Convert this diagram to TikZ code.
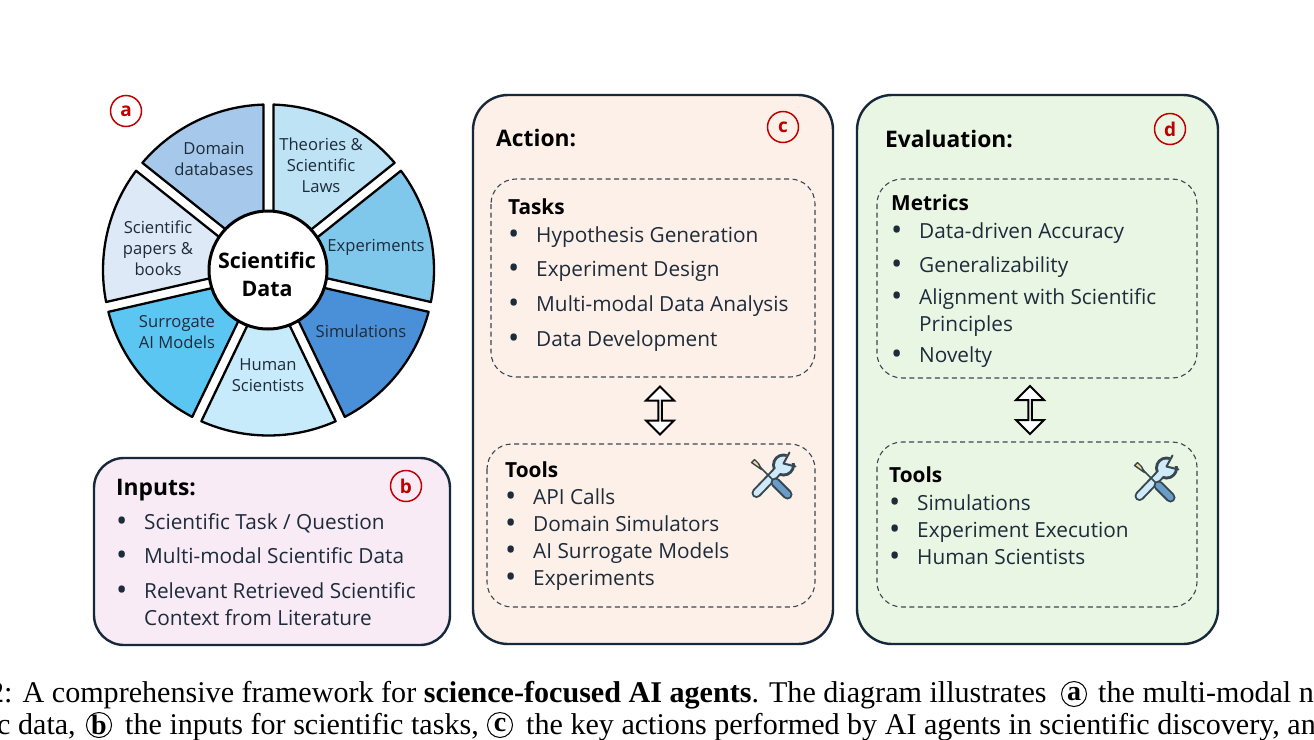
\documentclass[tikz,border=0pt]{standalone}
\usepackage{fontspec}
\setmainfont{Open Sans}
\newfontfamily\capfont{Liberation Serif}
\usetikzlibrary{shapes.arrows,calc}
\definecolor{navy}{HTML}{16283A}
\definecolor{ink}{HTML}{1E2B3A}
\definecolor{redc}{HTML}{C00000}
\definecolor{peach}{HTML}{FDF0E8}
\definecolor{mint}{HTML}{E9F6E4}
\definecolor{pinkb}{HTML}{F8EBF6}
\definecolor{dashc}{HTML}{3A4652}
\definecolor{iconl}{HTML}{CFEAF8}
\definecolor{iconb}{HTML}{6A9CC9}
\definecolor{icony}{HTML}{F4E08A}
\definecolor{icond}{HTML}{37474F}
\tikzset{
  panel/.style={draw=navy,line width=2.4pt,rounded corners=35pt},
  sub/.style={draw=dashc,line width=1.1pt,dash pattern=on 5pt off 3.5pt,rounded corners=25pt},
  head/.style={anchor=base west,font=\fontsize{22.8}{24}\selectfont\bfseries,text=black,inner sep=0pt},
  subhead/.style={anchor=base west,font=\fontsize{20.8}{22}\selectfont\bfseries,text=black,inner sep=0pt},
  item/.style={anchor=base west,font=\fontsize{20.8}{22}\selectfont,text=ink,inner sep=0pt},
  tag/.style={circle,draw=redc,line width=1.5pt,minimum size=31pt,inner sep=0pt,font=\fontsize{19}{20}\selectfont\bfseries,text=redc},
  seg/.style={draw=black,line width=2.3pt,line join=round},
  wlabel/.style={align=center,font=\fontsize{16.6}{21}\selectfont,text=ink,inner sep=0pt},
  swap/.style={double arrow,draw=black,fill=white,line width=2pt,rotate=90,minimum height=48pt,minimum width=28pt,double arrow head extend=7pt,inner sep=0pt},
  caption/.style={anchor=base west,font=\capfont\fontsize{30.1}{32}\selectfont,text=black,inner sep=0pt},
  ctag/.style={circle,draw=black,line width=1pt,minimum size=25pt,inner sep=0pt,font=\capfont\fontsize{28}{28}\selectfont\bfseries,text=black}
}
\newcommand{\bul}{\makebox[28pt][l]{\smash{\raisebox{-2.5pt}{\fontsize{30}{30}\selectfont •}}}}
\newcommand{\toolicon}[3]{%
\begin{scope}[shift={(#1,#2)},y=1pt,x=1pt,line cap=round,line join=round]
  \draw[icond,line width=10pt] (-17,-16.5) -- (8,9.5);
  \fill[icond] (10,11.5) circle (11.5pt);
  \draw[iconl,line width=6pt] (-17,-16.5) -- (8,9.5);
  \fill[iconl] (10,11.5) circle (8.5pt);
  \fill[#3] (9,13) -- (16,26) -- (26,14) -- cycle;
  \draw[icond,line width=2pt] (16,24) -- (10,13) -- (22,10);
  \draw[icond,line width=1.6pt] (-14,10) -- (2,-6);
  \draw[icond,line width=10pt] (2,-6) -- (14,-18);
  \draw[iconb,line width=6pt] (2,-6) -- (14,-18);
  \draw[icond,fill=icony,line width=1.4pt] (-19,17) -- (-15,13) -- (-12,7) -- (-17,10.5) -- (-22,14) -- cycle;
\end{scope}}
\begin{document}
\begin{tikzpicture}[x=1pt,y=-1pt]
\useasboundingbox (0,0) rectangle (1314,739);
\fill[white] (0,0) rectangle (1314,739);
\clip (0,0) rectangle (1314,739);

% wheel
\begin{scope}[shift={(268.5,270)},y=1pt]
\foreach \a/\b/\col in {90/141.4/A6C8EA, 38.6/90/BDE3F5, -12.9/38.6/80C8EB, -64.3/-12.9/4A90D9, -115.7/-64.3/C8EBFB, -167.1/-115.7/5CC6F2, -218.6/-167.1/DDE9F6}{
  \pgfmathsetmacro{\m}{(\a+\b)/2}
  \pgfmathsetmacro{\sa}{\a+1.75}
  \pgfmathsetmacro{\sb}{\b-1.75}
  \definecolor{segc}{HTML}{\col}
  \draw[seg,fill=segc] (\m:11.5) -- (\sa:165.5) arc[start angle=\sa,end angle=\sb,radius=165.5] -- cycle;
}
\end{scope}
\node[circle,draw=black,fill=white,line width=3pt,minimum size=118pt,inner sep=0pt] (hub) at (268,270) {};
\node[align=center,inner sep=0pt,font=\fontsize{21.4}{28}\selectfont\bfseries,text=black] (hubtext) at (267,274) {Scientific\\Data};
\node[wlabel] (w1) at (214,158.5) {Domain\\databases};
\node[wlabel] (w2) at (321,165.5) {Theories \&\\Scientific\\Laws};
\node[wlabel] (w3) at (376,247) {Experiments};
\node[wlabel] (w4) at (361,331) {Simulations};
\node[wlabel] (w5) at (268,375.5) {Human\\Scientists};
\node[wlabel] (w6) at (177,332.5) {Surrogate\\AI Models};
\node[wlabel] (w7) at (158,248.5) {Scientific\\papers \&\\books};
\node[tag] (taga) at (126,111) {a};

% inputs
\draw[panel,fill=pinkb,rounded corners=30pt] (94,458) rectangle (450,645);
\node[head] (ih) at (116,495) {Inputs:};
\node[tag] (tagb) at (406,486) {b};
\node[item] (i1) at (116,529) {\bul Scientific Task / Question};
\node[item] (i2) at (116,563) {\bul Multi-modal Scientific Data};
\node[item] (i3) at (116,598) {\bul Relevant Retrieved Scientific};
\node[item] (i4) at (144,625) {Context from Literature};

% action
\draw[panel,fill=peach] (473,95) rectangle (833,644);
\node[head] (ah) at (496,146) {Action:};
\node[tag] (tagc) at (783,127) {c};
\draw[sub] (491,179) rectangle (815,377);
\coordinate (tasksS) at (660,377);
\node[subhead] (th) at (508,214) {Tasks};
\node[item] (t1) at (508,242) {\bul Hypothesis Generation};
\node[item] (t2) at (508,276) {\bul Experiment Design};
\node[item] (t3) at (508,311) {\bul Multi-modal Data Analysis};
\node[item] (t4) at (508,346) {\bul Data Development};
\draw[sub] (487,444) rectangle (815,607);
\coordinate (toolsN) at (660,444);
\node[swap] (arrowc) at ($(tasksS)!0.5!(toolsN)$) {};
\node[subhead] (tlh) at (505,477) {Tools};
\node[item] (tl1) at (505,504) {\bul API Calls};
\node[item] (tl2) at (505,531) {\bul Domain Simulators};
\node[item] (tl3) at (505,558) {\bul AI Surrogate Models};
\node[item] (tl4) at (505,585) {\bul Experiments};
\toolicon{773.5}{476.5}{peach}

% evaluation
\draw[panel,fill=mint] (857,95) rectangle (1218,644);
\node[head] (eh) at (885,147) {Evaluation:};
\node[tag] (tagd) at (1170,129) {d};
\draw[sub] (877,179) rectangle (1197,378);
\coordinate (metS) at (1030,378);
\node[subhead] (mh) at (891,210) {Metrics};
\node[item] (m1) at (891,238) {\bul Data-driven Accuracy};
\node[item] (m2) at (891,272) {\bul Generalizability};
\node[item] (m3) at (891,304) {\bul Alignment with Scientific};
\node[item] (m4) at (919,331) {Principles};
\node[item] (m5) at (891,362) {\bul Novelty};
\draw[sub] (877,442) rectangle (1197,607);
\coordinate (toolsNd) at (1030,442);
\node[swap] (arrowd) at ($(metS)!0.5!(toolsNd)$) {};
\node[subhead] (elh) at (889,482) {Tools};
\node[item] (el1) at (889,510) {\bul Simulations};
\node[item] (el2) at (889,537) {\bul Experiment Execution};
\node[item] (el3) at (889,564) {\bul Human Scientists};
\toolicon{1156.5}{479.5}{mint}

% caption
\node[caption] (c1) at (-11,702) {2: A comprehensive framework for \textbf{science-focused AI agents}. The diagram illustrates};
\node[ctag] (ca) at (1074,694) {a};
\node[caption] (c2) at (1098,702) {the multi-modal n};
\node[caption] (c3) at (-3,734) {c data,};
\node[ctag] (cb) at (99,725) {b};
\node[caption] (c4) at (125,734) {the inputs for scientific tasks,};
\node[ctag] (cc) at (500,725) {c};
\node[caption] (c5) at (526,734) {the key actions performed by AI agents in scientific discovery, and};
\end{tikzpicture}
\end{document}
